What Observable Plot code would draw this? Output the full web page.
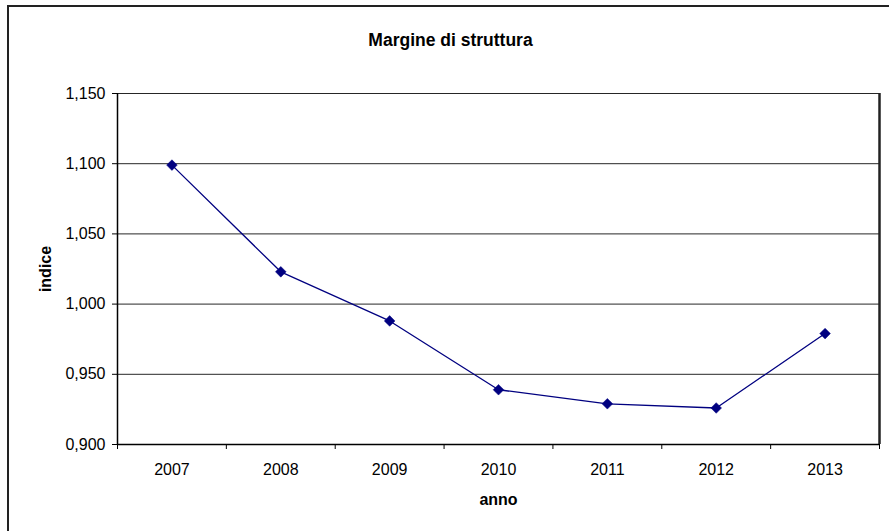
<!DOCTYPE html>
<html>
<head>
<meta charset="utf-8">
<script src="https://cdn.jsdelivr.net/npm/d3@7"></script>
<script src="https://cdn.jsdelivr.net/npm/@observablehq/plot@0.6"></script>
<style>
  html, body { margin: 0; padding: 0; background: #fff; }
  #wrap { position: relative; width: 889px; height: 531px; overflow: hidden; }
  #border { position: absolute; left: 7px; top: 5px; width: 1000px; height: 1000px;
            border-top: 2px solid #222; border-left: 2px solid #222; pointer-events: none; }
  svg { font-family: "Liberation Sans", Arial, sans-serif; }
</style>
</head>
<body>
<div id="wrap"><div id="border"></div></div>
<script>
const title = "Margine di struttura";
const xLabel = "anno";
const yLabel = "indice";
const years = [2007, 2008, 2009, 2010, 2011, 2012, 2013];
const values = [1.099, 1.023, 0.988, 0.939, 0.929, 0.926, 0.979];
const yTicks = [0.900, 0.950, 1.000, 1.050, 1.100, 1.150];
const gridTicks = [0.950, 1.000, 1.050, 1.100, 1.150];

const data = years.map((y, i) => ({year: y, value: values[i]}));
const boundaries = years.map(y => y - 0.5).concat([years[years.length - 1] + 0.5]);
const fmt = d => d.toFixed(3).replace(".", ",");

const chart = Plot.plot({
  width: 889,
  height: 531,
  marginLeft: 117,
  marginRight: 10,
  marginTop: 93,
  marginBottom: 87,
  style: {fontFamily: "'Liberation Sans', Arial, sans-serif", fontSize: "16px", color: "#000", background: "transparent"},
  x: {domain: [years[0] - 0.5, years[years.length - 1] + 0.5]},
  y: {domain: [0.9, 1.15]},
  marks: [
    Plot.ruleY(gridTicks, {stroke: "#000", strokeWidth: 1, strokeOpacity: 0.85}),
    Plot.ruleX([boundaries[boundaries.length - 1]], {stroke: "#222", strokeWidth: 2.5}),
    Plot.axisY({ticks: yTicks, tickFormat: fmt, tickSize: 5, tickPadding: 7, label: null, fontSize: 16}),
    Plot.axisX({ticks: boundaries, tickFormat: () => "", tickSize: 5, label: null}),
    Plot.axisX({ticks: years, tickFormat: d => String(d), tickSize: 0, tickPadding: 19, label: null, fontSize: 16}),
    Plot.ruleY([0.9], {stroke: "#000", strokeWidth: 1.5}),
    Plot.ruleX([boundaries[0]], {stroke: "#000", strokeWidth: 1.5}),
    Plot.line(data, {x: "year", y: "value", stroke: "#000080", strokeWidth: 1.3}),
    Plot.dot(data, {x: "year", y: "value", symbol: "diamond2", r: 4.8, fill: "#000080", stroke: "#000080", strokeWidth: 0.5}),
    Plot.text([title], {frameAnchor: "top-left", dx: 333, dy: -53, textAnchor: "middle", lineAnchor: "middle", fontWeight: "bold", fontSize: 17.5, fill: "#000"}),
    Plot.text([xLabel], {frameAnchor: "bottom", dy: 55, textAnchor: "middle", lineAnchor: "middle", fontWeight: "bold", fontSize: 16, fill: "#000"}),
    Plot.text([yLabel], {frameAnchor: "left", dx: -72, rotate: -90, textAnchor: "middle", lineAnchor: "middle", fontWeight: "bold", fontSize: 16, fill: "#000"})
  ]
});
document.getElementById("wrap").appendChild(chart);
chart.style.position = "absolute";
chart.style.left = "0";
chart.style.top = "0";
</script>
</body>
</html>
